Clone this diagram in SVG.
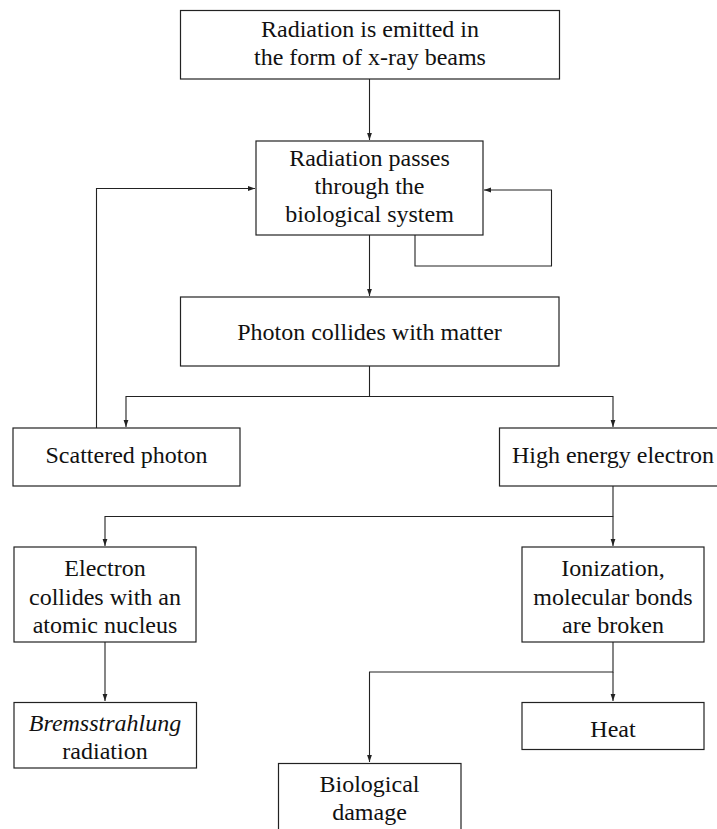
<svg xmlns="http://www.w3.org/2000/svg" width="717" height="829" viewBox="0 0 717 829">
<style>
.box{fill:#fff;stroke:#222;stroke-width:1.2}
.t{font-family:"Liberation Serif","Times New Roman",serif;font-size:24px;fill:#111;text-anchor:middle}
.it{font-style:italic}
.c{fill:none;stroke:#222;stroke-width:1.1}
</style>
<defs>
<marker id="ah" markerUnits="userSpaceOnUse" markerWidth="8" markerHeight="6" refX="7" refY="3" orient="auto">
<path d="M0,0.6 L7,3 L0,5.4 Z" fill="#222"/>
</marker>
</defs>
<rect width="717" height="829" fill="#fff"/>
<g id="connectors">
<path class="c" d="M369.5,79 V140" marker-end="url(#ah)"/>
<path class="c" d="M369.5,235 V296" marker-end="url(#ah)"/>
<path class="c" d="M415,235 V266 H551.5 V190 H484" marker-end="url(#ah)"/>
<path class="c" d="M96.5,428 V188.5 H255" marker-end="url(#ah)"/>
<path class="c" d="M369.5,366 V396.5 H126 V427" marker-end="url(#ah)"/>
<path class="c" d="M369.5,396.5 H613 V427" marker-end="url(#ah)"/>
<path class="c" d="M613,486 V516.5 H105 V546" marker-end="url(#ah)"/>
<path class="c" d="M613,516.5 V546" marker-end="url(#ah)"/>
<path class="c" d="M105,642 V701" marker-end="url(#ah)"/>
<path class="c" d="M613,642 V672 H369.5 V762" marker-end="url(#ah)"/>
<path class="c" d="M613,672 V701" marker-end="url(#ah)"/>
</g>
<g id="n1"><rect class="box" x="180.5" y="10.5" width="379" height="68.5"/>
<text class="t" x="370" y="37">Radiation is emitted in</text>
<text class="t" x="370" y="65">the form of x-ray beams</text></g>
<g id="n2"><rect class="box" x="256" y="141" width="227" height="94"/>
<text class="t" x="369.5" y="166">Radiation passes</text>
<text class="t" x="369.5" y="194">through the</text>
<text class="t" x="369.5" y="222">biological system</text></g>
<g id="n3"><rect class="box" x="180.5" y="297" width="378.5" height="69"/>
<text class="t" x="369.5" y="340">Photon collides with matter</text></g>
<g id="n4"><rect class="box" x="13" y="428" width="227" height="58"/>
<text class="t" x="126.5" y="463">Scattered photon</text></g>
<g id="n5"><rect class="box" x="499.5" y="428" width="227" height="58"/>
<text class="t" x="613" y="463">High energy electron</text></g>
<g id="n6"><rect class="box" x="14" y="547" width="182" height="95"/>
<text class="t" x="105" y="576">Electron</text>
<text class="t" x="105" y="605">collides with an</text>
<text class="t" x="105" y="633">atomic nucleus</text></g>
<g id="n7"><rect class="box" x="522" y="547" width="182" height="95"/>
<text class="t" x="613" y="576">Ionization,</text>
<text class="t" x="613" y="605">molecular bonds</text>
<text class="t" x="613" y="633">are broken</text></g>
<g id="n8"><rect class="box" x="14" y="702.5" width="182.5" height="65.5"/>
<text class="t it" x="105" y="731">Bremsstrahlung</text>
<text class="t" x="105" y="759">radiation</text></g>
<g id="n9"><rect class="box" x="522" y="702.5" width="182" height="47"/>
<text class="t" x="613" y="737">Heat</text></g>
<g id="n10"><rect class="box" x="278.5" y="763.5" width="182.5" height="70"/>
<text class="t" x="369.5" y="792">Biological</text>
<text class="t" x="369.5" y="820">damage</text></g>
</svg>
